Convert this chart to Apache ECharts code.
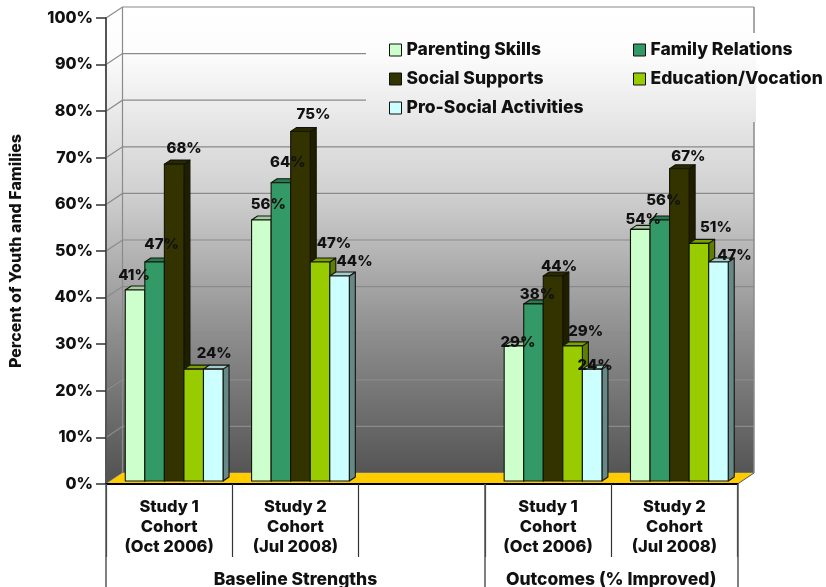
<!DOCTYPE html>
<html><head><meta charset="utf-8">
<style>html,body{margin:0;padding:0;background:#fff}#c{width:826px;height:587px}</style>
<script src="https://cdn.jsdelivr.net/npm/echarts@6/dist/echarts.min.js"></script>
</head><body><div id="c"></div>
<script>
const categories = ['Study 1\nCohort\n(Oct 2006)', 'Study 2\nCohort\n(Jul 2008)', '', 'Study 1\nCohort\n(Oct 2006)', 'Study 2\nCohort\n(Jul 2008)'];
const groupLabels = ['Baseline Strengths', 'Outcomes (% Improved)'];
const parentingSkills = [41, 56, null, 29, 54];
const familyRelations = [47, 64, null, 38, 56];
const socialSupports = [68, 75, null, 44, 67];
const educationVocation = [24, 47, null, 29, 51];
const proSocialActivities = [24, 44, null, 24, 47];
const seriesNames = ['Parenting Skills', 'Family Relations', 'Social Supports', 'Education/Vocation', 'Pro-Social Activities'];
const yTicks = [0, 10, 20, 30, 40, 50, 60, 70, 80, 90, 100];

const seriesValues = [parentingSkills, familyRelations, socialSupports, educationVocation, proSocialActivities];
const front = ['#CCFFCC', '#339966', '#333300', '#99CC00', '#CCFFFF'];
const side = ['#7f9f7f', '#1f5f3f', '#1f1f00', '#5f7f00', '#668888'];
const top_ = ['#a3cca3', '#287a52', '#292900', '#7aa300', '#a3cccc'];
// label nudges from bar-top centre [dx, dy], one row per series; null hides the label
const nudges = [
  [[-1,-14],[7,-16],null,[4,-3],[3,-10]],
  [[7,-17],[7,-20],null,[4,-9],[4,-20]],
  [[10,-16],[13,-17],null,[6,-9],[9,-12]],
  [null,[14,-18],null,[13,-14],[17,-16]],
  [[1,-16],[15,-14],null,[3,-4],[16,-6]]
];
const FONT = 'Inter, "Liberation Sans", Arial, sans-serif';
const WEIGHT = 800;
const WALL_DX = 16.5, WALL_DY = 11, BAR_D = 6, BAR_DY = 4, BAR_W = 19.55, BAR_SHIFT = 5, BASE_LIFT = 3;

function wallGradient(y0, y1) {
  return {type:'linear', global:true, x:0, y:y0, x2:0, y2:y1, colorStops:[
    {offset:0,color:'#ffffff'},{offset:0.1,color:'#fcfcfc'},{offset:0.4,color:'#d0d0d0'},{offset:0.7,color:'#8e8e8e'},{offset:1,color:'#555555'}]};
}
function renderWalls(params, api) {
  const cs = params.coordSys;
  const L = cs.x, R = cs.x + cs.width;
  const T = api.coord([0, 100])[1], B = api.coord([0, 0])[1];
  const g = wallGradient(T - WALL_DY, B - WALL_DY);
  const gridStyle = {stroke:'#8a8a8a', lineWidth:1.2, fill:'none'};
  const kids = [
    {type:'rect', shape:{x:L+WALL_DX, y:T-WALL_DY, width:R-L, height:B-T}, style:{fill:g}},
    {type:'polygon', shape:{points:[[L,T],[L+WALL_DX,T-WALL_DY],[L+WALL_DX,B-WALL_DY],[L,B]]}, style:{fill:g}}
  ];
  yTicks.forEach(t => {
    const y = api.coord([0, t])[1];
    kids.push({type:'polyline', shape:{points:[[L,y],[L+WALL_DX,y-WALL_DY],[R+WALL_DX,y-WALL_DY]]}, style:gridStyle});
  });
  kids.push({type:'line', shape:{x1:L+WALL_DX,y1:T-WALL_DY,x2:L+WALL_DX,y2:B-WALL_DY}, style:gridStyle});
  kids.push({type:'line', shape:{x1:R+WALL_DX,y1:T-WALL_DY,x2:R+WALL_DX,y2:B-WALL_DY}, style:{stroke:'#8a8a8a', lineWidth:1.5}});
  kids.push({type:'polygon', shape:{points:[[L,B],[L+WALL_DX,B-WALL_DY],[R+WALL_DX,B-WALL_DY],[R,B]]}, style:{fill:'#FFCC00'}});
  kids.push({type:'line', shape:{x1:R,y1:B,x2:R+WALL_DX,y2:B-WALL_DY}, style:{stroke:'#555', lineWidth:1}});
  // legend panel masks the wall's grid lines
  kids.push({type:'rect', shape:{x:366, y:33, width:390, height:89}, style:{fill:g}});
  return {type:'group', children:kids};
}
function barRenderer(si) {
  return function (params, api) {
    const cat = api.value(0), val = api.value(1);
    if (val == null || isNaN(val)) return null;
    const top = api.coord([cat, val]), base = api.coord([cat, 0]);
    const x0 = top[0] + BAR_SHIFT + (si - 2.5) * BAR_W, x1 = x0 + BAR_W;
    const yT = top[1] - BASE_LIFT, yB = base[1] - BASE_LIFT;
    const edge = {stroke:'#14140a', lineWidth:1.1, lineJoin:'round'};
    const kids = [
      {type:'polygon', shape:{points:[[x1,yB],[x1+BAR_D,yB-BAR_DY],[x1+BAR_D,yT-BAR_DY],[x1,yT]]}, style:Object.assign({fill:side[si]}, edge)},
      {type:'polygon', shape:{points:[[x0,yT],[x0+BAR_D,yT-BAR_DY],[x1+BAR_D,yT-BAR_DY],[x1,yT]]}, style:Object.assign({fill:top_[si]}, edge)},
      {type:'rect', shape:{x:x0, y:yT, width:BAR_W, height:yB-yT}, style:Object.assign({fill:front[si]}, edge)}
    ];
    const n = nudges[si][params.dataIndex];
    if (n) kids.push({type:'text', z2:1000, style:{text:val+'%', x:x0+BAR_W/2+n[0], y:yT+n[1], align:'center', verticalAlign:'middle', font:WEIGHT+' 15px '+FONT, fill:'#111'}});
    return {type:'group', children:kids};
  };
}
const series = [{type:'custom', name:'walls', z:1, silent:true, clip:false, data:[[0,0]], renderItem:renderWalls}];
seriesNames.forEach((name, si) => {
  series.push({type:'custom', name, z:3, clip:false, itemStyle:{color:front[si]},
    data:seriesValues[si].map((v,i)=>[i,v]), encode:{x:0,y:1}, renderItem:barRenderer(si)});
});
const legendPos = [[389,41],[633,41],[389,70],[633,70],[389,99]];
const chart = echarts.init(document.getElementById('c'), null, {renderer:'canvas'});
chart.setOption({
  animation:false,
  backgroundColor:'#fff',
  grid:{left:106, width:631.5, top:18, height:466, containLabel:false, outerBoundsMode:'none'},
  legend: seriesNames.map((n,i)=>({
    data:[n], left:legendPos[i][0], top:legendPos[i][1], padding:0, selectedMode:false, z:10,
    icon:'rect', itemWidth:12, itemHeight:12,
    itemStyle:{borderColor:'#111', borderWidth:1},
    textStyle:{fontFamily:FONT, fontWeight:WEIGHT, fontSize:17.5, color:'#111'}
  })),
  xAxis:[
    {type:'category', data:categories, position:'bottom', z:5,
     axisLine:{show:true, lineStyle:{color:'#000', width:2}},
     axisTick:{show:true, interval:0, length:73, lineStyle:{color:'#333', width:1.2}},
     splitLine:{show:false},
     axisLabel:{interval:0, margin:13, lineHeight:20, color:'#111', fontFamily:FONT, fontWeight:WEIGHT, fontSize:16.5}},
    {type:'value', min:0, max:5, position:'bottom', z:5,
     axisLine:{show:false}, splitLine:{show:false},
     axisTick:{show:true, customValues:[0,3,5], length:103, lineStyle:{color:'#555', width:1.5}},
     axisLabel:{customValues:[1.5,4], margin:87, color:'#111', fontFamily:FONT, fontWeight:WEIGHT, fontSize:17.5,
       formatter:v=> v<3 ? groupLabels[0] : groupLabels[1]}}
  ],
  yAxis:{type:'value', min:0, max:100, interval:10, z:5,
    name:'Percent of Youth and Families', nameLocation:'middle', nameGap:82, nameRotate:90,
    nameTextStyle:{fontFamily:FONT, fontWeight:WEIGHT, fontSize:16, color:'#111'},
    axisLine:{show:true, lineStyle:{color:'#555', width:2}},
    axisTick:{show:true, length:10, lineStyle:{color:'#333', width:1.5}},
    splitLine:{show:false},
    axisLabel:{margin:13, formatter:'{value}%', color:'#111', fontFamily:FONT, fontWeight:WEIGHT, fontSize:16}},
  series
});
</script></body></html>
